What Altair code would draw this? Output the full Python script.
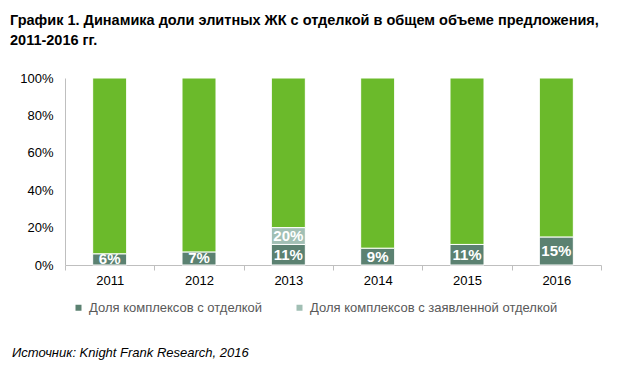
import altair as alt
import pandas as pd

years = ["2011", "2012", "2013", "2014", "2015", "2016"]
finished = [6, 7, 11, 9, 11, 15]          # Доля комплексов с отделкой
declared_total = [None, None, 20, None, None, None]  # cumulative share incl. declared finish
series_names = ["Доля комплексов с отделкой", "Доля комплексов с заявленной отделкой", "Прочие"]
colors = ["#5B8171", "#A1BFB4", "#6BBA2B"]

title_lines = ["График 1. Динамика доли элитных ЖК с отделкой в общем объеме предложения,",
               "2011-2016 гг."]
source_text = "Источник: Knight Frank Research, 2016"

rows = []
labels = []
for yr, f, d in zip(years, finished, declared_total):
    top = d if d is not None else f
    rows.append({"year": yr, "series": series_names[0], "y0": 0, "y1": f})
    labels.append({"year": yr, "mid": f / 2, "text": f"{f}%"})
    if d is not None:
        rows.append({"year": yr, "series": series_names[1], "y0": f, "y1": d})
        labels.append({"year": yr, "mid": (f + d) / 2, "text": f"{d}%"})
    rows.append({"year": yr, "series": series_names[2], "y0": top, "y1": 100})
bars_df = pd.DataFrame(rows)
labels_df = pd.DataFrame(labels)

FONT = "Liberation Sans"
W, H = 536, 187

x_axis = alt.Axis(labelAngle=0, labelFont=FONT, labelFontSize=13, labelColor="#000000",
                  domainColor="#BFBFBF", tickColor="#BFBFBF", tickSize=5,
                  tickBand="extent", labelPadding=4)
y_axis = alt.Axis(values=[0, 20, 40, 60, 80, 100], labelExpr="datum.value + '%'",
                  grid=False, ticks=False, domainColor="#BFBFBF", labelPadding=12,
                  labelOverlap=False, labelFlush=False,
                  labelFont=FONT, labelFontSize=13, labelColor="#000000")
x_scale = alt.Scale(paddingInner=0, paddingOuter=0)
y_scale = alt.Scale(domain=[0, 100])

bars = alt.Chart(bars_df).mark_bar(size=34, stroke="white", strokeWidth=1).encode(
    x=alt.X("year:N", sort=years, title=None, scale=x_scale, axis=x_axis),
    y=alt.Y("y0:Q", title=None, scale=y_scale, axis=y_axis),
    y2="y1:Q",
    color=alt.Color("series:N", scale=alt.Scale(domain=series_names, range=colors),
                    legend=alt.Legend(values=series_names[:2], title=None, orient="none",
                                      legendX=7, legendY=223, direction="horizontal",
                                      symbolType="square", symbolSize=36, symbolStrokeWidth=0,
                                      labelFont=FONT, labelFontSize=13, labelColor="#595959",
                                      labelOffset=4, columnPadding=30, padding=0, labelLimit=400)),
    order=alt.Order("y0:Q"),
)

texts = alt.Chart(labels_df).mark_text(font=FONT, fontSize=15, fontWeight="bold",
                                       color="white", baseline="middle").encode(
    x=alt.X("year:N", sort=years, title=None, scale=x_scale, axis=x_axis),
    y=alt.Y("mid:Q", title=None, scale=y_scale, axis=y_axis),
    text="text:N",
)

t1 = alt.Chart(pd.DataFrame({"t": [title_lines[0]]})).mark_text(
    font=FONT, fontSize=14.5, fontWeight="bold", align="left", baseline="alphabetic", color="#000000"
).encode(x=alt.value(-55), y=alt.value(-53), text="t:N")
t2 = alt.Chart(pd.DataFrame({"t": [title_lines[1]]})).mark_text(
    font=FONT, fontSize=14.5, fontWeight="bold", align="left", baseline="alphabetic", color="#000000"
).encode(x=alt.value(-55), y=alt.value(-33), text="t:N")
src = alt.Chart(pd.DataFrame({"t": [source_text]})).mark_text(
    font=FONT, fontSize=13, fontStyle="italic", align="left", baseline="alphabetic", color="#000000"
).encode(x=alt.value(-53), y=alt.value(279), text="t:N")

chart = alt.layer(bars, texts, t1, t2, src).properties(
    width=W, height=H,
    autosize=alt.AutoSizeParams(type="none"),
    padding={"left": 57, "top": 70, "right": 11, "bottom": 95},
).configure_view(stroke=None)

chart.save("out.html", embed_options={"renderer": "svg", "actions": False})
